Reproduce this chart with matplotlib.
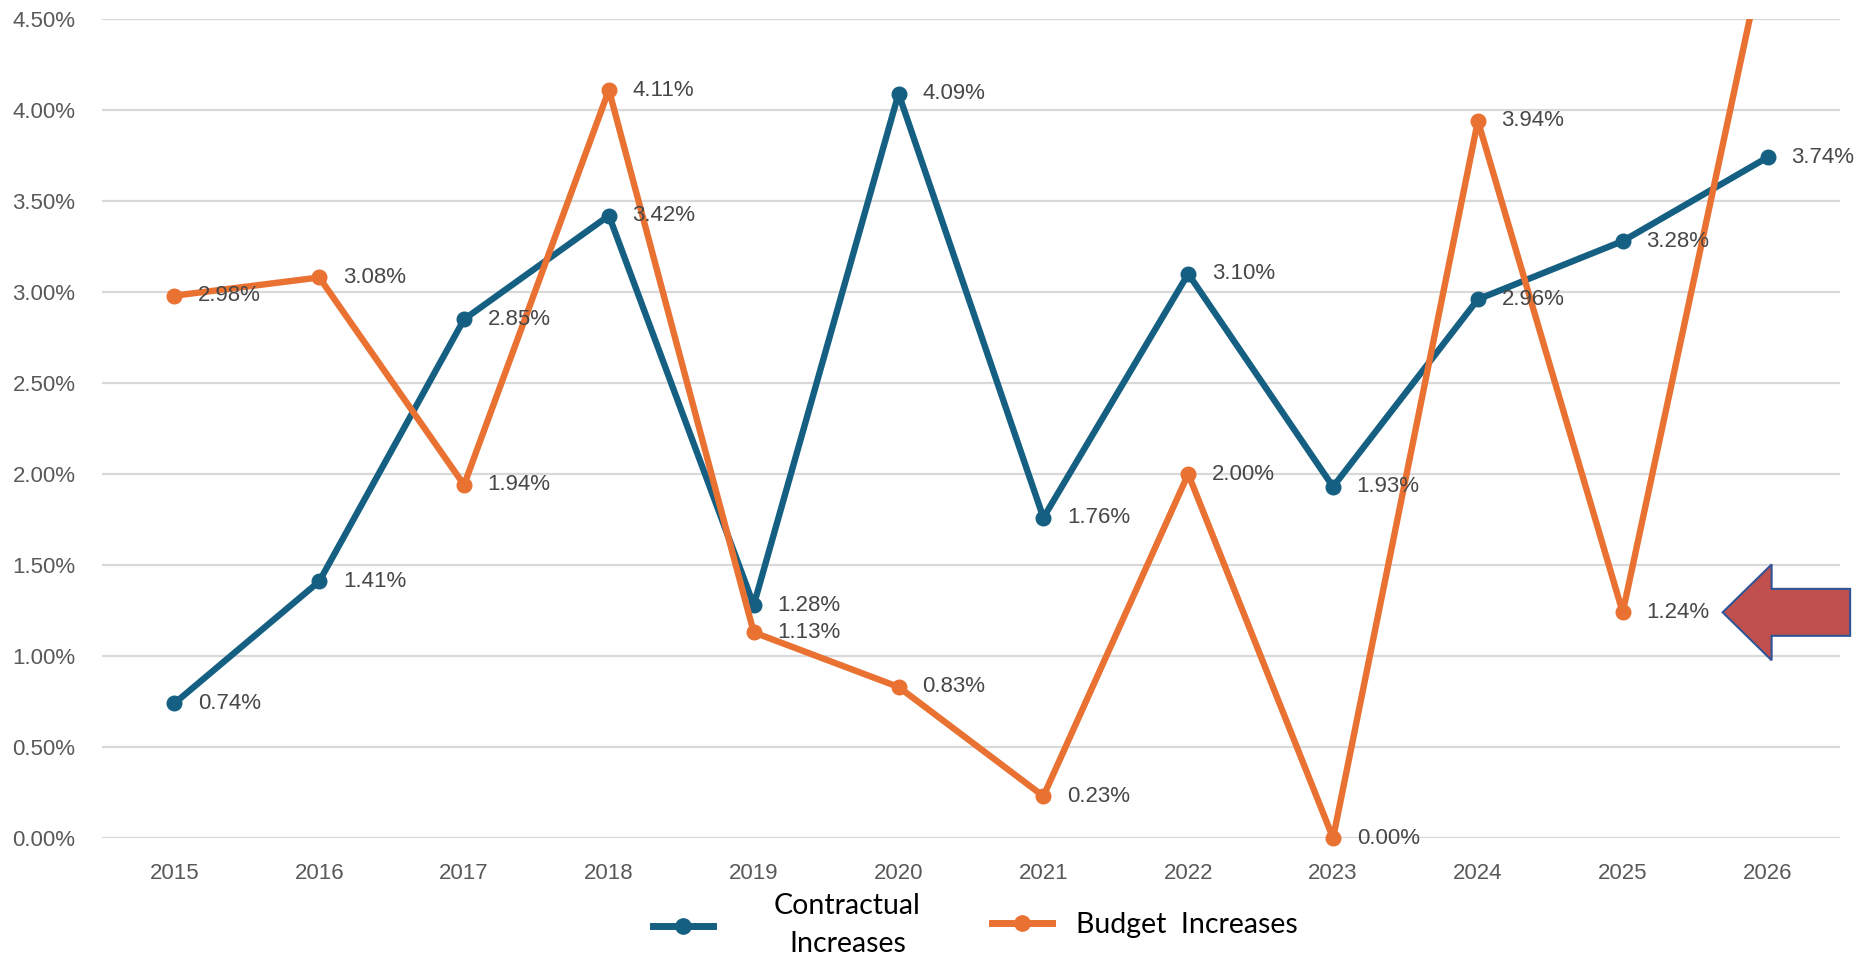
import matplotlib
matplotlib.use("Agg")
import matplotlib.pyplot as plt
from matplotlib.lines import Line2D
from matplotlib.patches import FancyArrow
from matplotlib.ticker import PercentFormatter

years = ["2015", "2016", "2017", "2018", "2019", "2020",
         "2021", "2022", "2023", "2024", "2025", "2026"]
contractual = [0.74, 1.41, 2.85, 3.42, 1.28, 4.09, 1.76, 3.10, 1.93, 2.96, 3.28, 3.74]
budget = [2.98, 3.08, 1.94, 4.11, 1.13, 0.83, 0.23, 2.00, 0.00, 3.94, 1.24, 4.96]

BLUE = "#156082"
ORANGE = "#E97132"
YMAX = 4.5

fig = plt.figure(figsize=(18.68, 9.56), dpi=100)
ax = fig.add_axes([0.0546, 0.1234, 0.9304, 0.8567])

x = list(range(len(years)))
for vals, color in [(contractual, BLUE), (budget, ORANGE)]:
    # line is clipped at the top of the axis, markers are not
    ax.plot(x, vals, color=color, lw=4.6, zorder=3, solid_capstyle="round")
    shown = [(xi, v) for xi, v in zip(x, vals) if v <= YMAX]
    ax.plot([p[0] for p in shown], [p[1] for p in shown], ls="none",
            marker="o", ms=10.5, color=color, zorder=3, clip_on=False)
    for xi, v in shown:
        ax.annotate(f"{v:.2f}%", (xi, v), xytext=(17, 0),
                    textcoords="offset points", ha="left", va="center",
                    fontsize=16, color="#474747",
                    family="Liberation Sans", zorder=4)

ax.set_xlim(-0.5, len(years) - 0.5)
ax.set_ylim(0, YMAX)
ax.set_yticks([i * 0.5 for i in range(10)])
ax.yaxis.set_major_formatter(PercentFormatter(decimals=2))
ax.set_xticks(x)
ax.set_xticklabels(years)
ax.grid(axis="y", color="#d9d9d9", lw=1.6)
ax.set_axisbelow(True)
for s in ax.spines.values():
    s.set_visible(False)
ax.tick_params(length=0, labelsize=16, labelcolor="#595959")
ax.tick_params(axis="y", pad=19)
ax.tick_params(axis="x", pad=18)
for lab in ax.get_xticklabels() + ax.get_yticklabels():
    lab.set_family("Liberation Sans")

# block arrow pointing at the 2025 budget figure
arrow = FancyArrow(11.57, budget[10], -0.88, 0, width=0.258, head_width=0.527,
                   head_length=0.338, length_includes_head=True,
                   facecolor="#C0504D", edgecolor="#2F5597", lw=1.5,
                   clip_on=False, zorder=5)
ax.add_patch(arrow)

h1 = Line2D([], [], color=BLUE, lw=5, marker="o", ms=11)
h2 = Line2D([], [], color=ORANGE, lw=5, marker="o", ms=11)
leg1 = fig.legend([h1], ["Contractual\nIncreases"], loc="center left",
                  bbox_to_anchor=(0.3496, 0.0324), frameon=False,
                  borderpad=0, borderaxespad=0, handlelength=2.1,
                  handletextpad=2.15, prop={"family": "Lato", "size": 20.5})
for t in leg1.get_texts():
    t.set_multialignment("center")
    t.set_linespacing(1.55)
leg2 = fig.legend([h2], ["Budget  Increases"], loc="center left",
                  bbox_to_anchor=(0.531, 0.0324), frameon=False,
                  borderpad=0, borderaxespad=0, handlelength=2.1,
                  handletextpad=0.86, prop={"family": "Lato", "size": 20.5})

fig.savefig("out.png", dpi=100)
